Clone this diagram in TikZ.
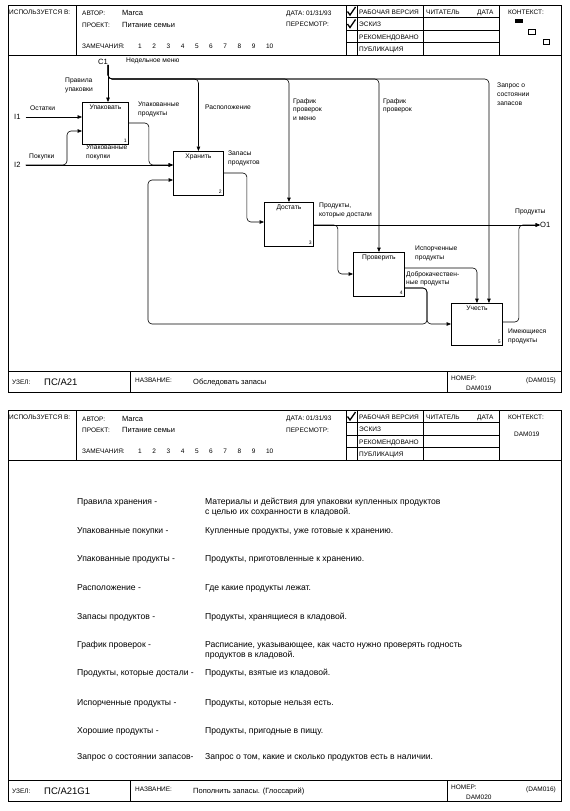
\documentclass[tikz,border=0pt]{standalone}
\usepackage{fontspec}
\setmainfont{Liberation Sans}
\usetikzlibrary{arrows.meta,positioning}

\tikzset{
  box/.style={draw,line width=0.9pt,minimum width=50pt,minimum height=43pt,anchor=north west,inner sep=0pt},
  arr/.style={-{Triangle[length=4.5pt,width=3.6pt]},line width=0.6pt},
  rc/.style={rounded corners=4pt},
  lbl/.style={font=\fontsize{6.7}{8.7}\selectfont,align=left,anchor=west,inner sep=0pt},
  io/.style={font=\fontsize{7.6}{9}\selectfont,anchor=west,inner sep=0pt},
  hd/.style={font=\fontsize{6.5}{7}\selectfont,anchor=base west,inner sep=0pt},
  big/.style={font=\fontsize{7.5}{8}\selectfont,anchor=base west,inner sep=0pt},
  gl/.style={font=\fontsize{8.6}{10}\selectfont,anchor=base west,align=left,inner sep=0pt},
  frm/.style={line width=0.6pt},
}

\begin{document}
\begin{tikzpicture}[x=1pt,y=-1pt]
\useasboundingbox (0,0) rectangle (570,811);

% the two sheets: frame, header, footer
\foreach \t/\b in {5/392,410/801}
{
  \draw[frm] (8,\t) rectangle (561,\b);
  \draw[frm] (8,\t+50) -- (561,\t+50);
  \draw[frm] (8,\b-21) -- (561,\b-21);
  \draw[frm] (76,\t) -- (76,\t+50);
  \draw[frm] (346,\t) -- (346,\t+50);
  \draw[frm] (357,\t) -- (357,\t+50);
  \draw[frm] (423,\t) -- (423,\t+50);
  \draw[frm] (499,\t) -- (499,\t+50);
  \foreach \r in {12.5,25,37.5}
    \draw[frm] (346,\t+\r) -- (499,\t+\r);
  \draw[frm] (130,\b-21) -- (130,\b);
  \draw[frm] (447,\b-21) -- (447,\b);
  % check mark of the working version
  \draw[line width=1.3pt] (347.5,\t+6.5) -- (350,\t+10) -- (355.5,\t+2);

  \node[hd] (used\t) at (9,\t+9) {ИСПОЛЬЗУЕТСЯ В:};
  \node[hd] (autor\t) at (82,\t+11) {АВТОР:};
  \node[big] (name\t) at (122,\t+11) {Marca};
  \node[hd] (proj\t) at (82,\t+22.5) {ПРОЕКТ:};
  \node[big] (projn\t) at (122,\t+22.5) {Питание семьи};
  \node[hd] (notes\t) at (82,\t+43) {ЗАМЕЧАНИЯ:};
  \foreach \n in {1,...,10}
    \node[hd] (n\n-\t) at (138+14.2*\n-14.2,\t+43) {\n};
  \node[hd] (date\t) at (286,\t+10) {ДАТА: 01/31/93};
  \node[hd] (rev\t) at (286,\t+22) {ПЕРЕСМОТР:};
  \node[hd] (st1\t) at (359,\t+9.5) {РАБОЧАЯ ВЕРСИЯ};
  \node[hd] (st2\t) at (359,\t+21.5) {ЭСКИЗ};
  \node[hd] (st3\t) at (359,\t+34) {РЕКОМЕНДОВАНО};
  \node[hd] (st4\t) at (359,\t+46.5) {ПУБЛИКАЦИЯ};
  \node[hd] (reader\t) at (426,\t+9.5) {ЧИТАТЕЛЬ};
  \node[hd] (rdate\t) at (477,\t+9.5) {ДАТА};
  \node[hd] (ctx\t) at (508,\t+9.5) {КОНТЕКСТ:};
  \node[hd] (uzel\t) at (12,\b-8) {УЗЕЛ:};
  \node[hd] (title\t) at (135,\b-10) {НАЗВАНИЕ:};
  \node[hd] (nr\t) at (451,\b-12) {НОМЕР:};
}

% sheet 1 only
\draw[line width=1.3pt] (347.5,24) -- (350,27.5) -- (355.5,19.5);
\fill (515,19) rectangle (523,23);
\draw[frm] (528,29) rectangle (535,34);
\draw[frm] (543,39) rectangle (549,44);
\node[big,font=\fontsize{9.5}{10}\selectfont] (node1) at (44,385.5) {ПС/А21};
\node[big] (tt1) at (193,384) {Обследовать запасы};
\node[hd] (num1) at (466,390) {DAM019};
\node[hd] (cnum1) at (526,382) {(DAM015)};

% sheet 2 only
\node[hd] (ctxn) at (514,436) {DAM019};
\node[big,font=\fontsize{9.5}{10}\selectfont] (node2) at (44,794.5) {ПС/А21G1};
\node[big] (tt2) at (193,793) {Пополнить запасы. (Глоссарий)};
\node[hd] (num2) at (466,799) {DAM020};
\node[hd] (cnum2) at (526,791) {(DAM016)};

% activity boxes
\node[box,minimum width=46pt,minimum height=42pt,
  label={[lbl,anchor=north,yshift=-3pt]north:Упаковать},
  label={[lbl,anchor=south east,xshift=-2pt,yshift=2pt,font=\fontsize{5}{6}\selectfont]south east:1}]
  (upak) at (82,102) {};
\node[box,minimum height=44pt,
  label={[lbl,anchor=north,yshift=-3pt]north:Хранить},
  label={[lbl,anchor=south east,xshift=-2pt,yshift=2pt,font=\fontsize{5}{6}\selectfont]south east:2}]
  (hran) at (173,151) {};
\node[box,minimum width=49pt,minimum height=44pt,
  label={[lbl,anchor=north,yshift=-3pt]north:Достать},
  label={[lbl,anchor=south east,xshift=-2pt,yshift=2pt,font=\fontsize{5}{6}\selectfont]south east:3}]
  (dost) at (264,202) {};
\node[box,minimum width=51pt,minimum height=44pt,
  label={[lbl,anchor=north,yshift=-3pt]north:Проверить},
  label={[lbl,anchor=south east,xshift=-2pt,yshift=2pt,font=\fontsize{5}{6}\selectfont]south east:4}]
  (prov) at (353,252) {};
\node[box,minimum width=51pt,minimum height=42pt,
  label={[lbl,anchor=north,yshift=-3pt]north:Учесть},
  label={[lbl,anchor=south east,xshift=-2pt,yshift=2pt,font=\fontsize{5}{6}\selectfont]south east:5}]
  (uch) at (451,303) {};

% boundary arrows
\node[io,anchor=east] (c1) at (108,62) {C1};
\node[io] (i1) at (14,117) {I1};
\node[io] (i2) at (14,165) {I2};
\node[io] (o1) at (540,225) {O1};
\coordinate (bus) at (0,79);
\coordinate (ipk) at (67,131);
\coordinate (gp) at (427,324);
\coordinate (fb) at (148,324);
\coordinate (uchq) at ([xshift=12pt]uch.north);

\draw[arr] (c1.south east) -- (upak.north -| c1.south east);
\draw[arr,rc] (c1.south east) |- (hran.north |- bus) -- (hran.north);
\draw[arr,rc] (c1.south east) |- (dost.north |- bus) -- (dost.north);
\draw[arr,rc] (c1.south east) |- (prov.north |- bus) -- (prov.north);
\draw[arr,rc] (c1.south east) |- (uchq |- bus) -- (uchq);

\draw[arr,shorten <=5pt] (i1.east) -- (upak.west |- i1.east);
\draw[arr,shorten <=5pt] (i2.east) -- (hran.west |- i2.east);
\draw[arr,rc,shorten <=5pt] (i2.east) -| (ipk) -- (upak.west |- ipk);

\draw[arr,rc] ([yshift=-21pt]upak.north east) -- ++(20,0) |- (hran.west |- i2.east);
\draw[arr,rc] ([yshift=-22pt]hran.north east) -- ++(23,0) |- ([yshift=-20pt]dost.north west);
\draw[arr] ([yshift=-23pt]dost.north east) -- (o1.west);
\draw[arr,rc] ([yshift=-23pt]dost.north east) -- ++(24,0) |- ([yshift=-22pt]prov.north west);
\draw[arr,rc] ([yshift=-16pt]prov.north east) -| (uch.north);
\draw[arr,rc] ([yshift=-36pt]prov.north east) -| (gp) -- (uch.west |- gp);
\draw[arr,rc] ([yshift=-36pt]prov.north east) -| (gp) -- (fb) |- ([yshift=-29pt]hran.north west);
\draw[arr,rc] ([yshift=-19pt]uch.north east) -- ++(16,0) |- (o1.west);

% arrow labels
\node[lbl] (menu) at (126,61) {Недельное меню};
\node[lbl,anchor=north west] (rpack) at (65,78) {Правила\\упаковки};
\node[lbl] (rest) at (30,108) {Остатки};
\node[lbl] (buy) at (29,157) {Покупки};
\node[lbl,anchor=north west] (pbuy) at (86,145) {Упакованные\\покупки};
\node[lbl,anchor=north west] (pprod) at (138,102) {Упакованные\\продукты};
\node[lbl] (place) at (205,107) {Расположение};
\node[lbl,anchor=north west] (stock) at (228,151) {Запасы\\продуктов};
\node[lbl,anchor=north west] (sched2) at (293,98) {График\\проверок\\и меню};
\node[lbl,anchor=north west] (sched) at (383,98) {График\\проверок};
\node[lbl,anchor=north west] (query) at (497,83) {Запрос о\\состоянии\\запасов};
\node[lbl,anchor=north west] (taken) at (319,203) {Продукты,\\которые достали};
\node[lbl] (prod) at (515,212) {Продукты};
\node[lbl,anchor=north west] (bad) at (415,246) {Испорченные\\продукты};
\node[lbl,anchor=north west] (good) at (406,271) {Доброкачествен-\\ные продукты};
\node[lbl,anchor=north west] (have) at (508,329) {Имеющиеся\\продукты};

% glossary (base of a two-line text is its last line)
\foreach \y/\s/\a/\b [count=\i] in {
  504/10/{Правила хранения -}/{Материалы и действия для упаковки купленных продуктов\\с целью их сохранности в кладовой.},
  533/0/{Упакованные покупки -}/{Купленные продукты, уже готовые к хранению.},
  561/0/{Упакованные продукты -}/{Продукты, приготовленные к хранению.},
  590/0/{Расположение -}/{Где какие продукты лежат.},
  619/0/{Запасы продуктов -}/{Продукты, хранящиеся в кладовой.},
  647/10/{График проверок -}/{Расписание, указывающее, как часто нужно проверять годность\\продуктов в кладовой.},
  675/0/{Продукты, которые достали -}/{Продукты, взятые из кладовой.},
  705/0/{Испорченные продукты -}/{Продукты, которые нельзя есть.},
  733/0/{Хорошие продукты -}/{Продукты, пригодные в пищу.},
  759/0/{Запрос о состоянии запасов-}/{Запрос о том, какие и сколько продуктов есть в наличии.}}
{
  \node[gl] (term\i) at (77,\y) {\a};
  \node[gl] (def\i) at (205,\y+\s) {\b};
}

\end{tikzpicture}
\end{document}
